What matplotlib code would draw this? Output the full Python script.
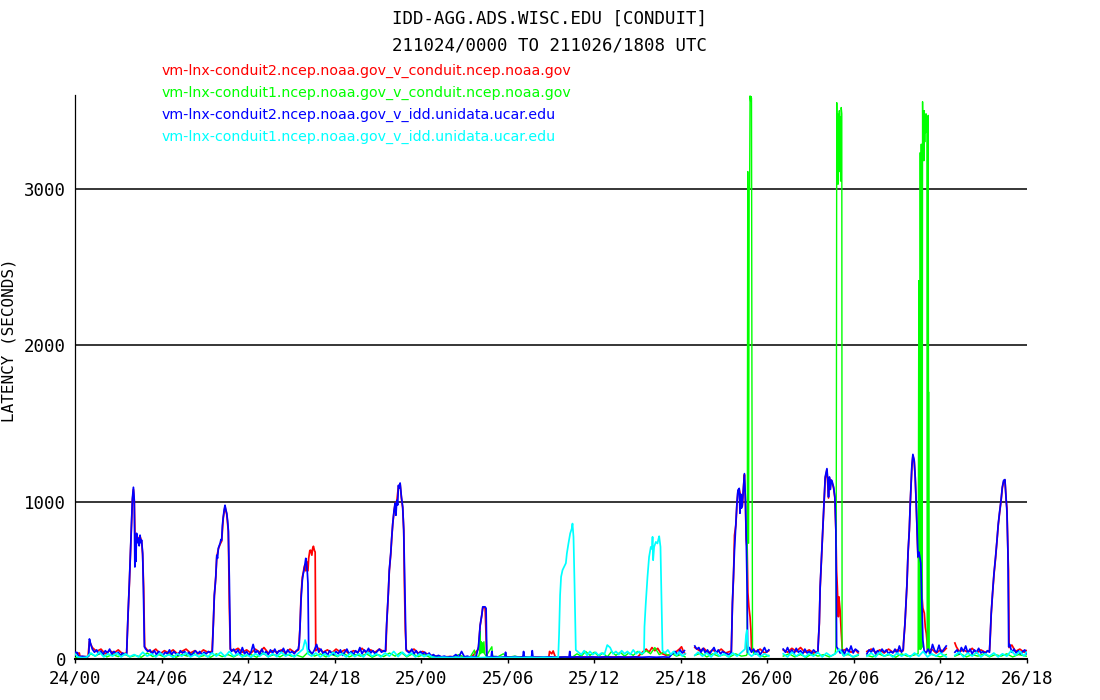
import numpy as np
from matplotlib import pyplot as plt

title1 = "IDD-AGG.ADS.WISC.EDU [CONDUIT]"
title2 = "211024/0000 TO 211026/1808 UTC"
feeds = ["vm-lnx-conduit2.ncep.noaa.gov_v_conduit.ncep.noaa.gov",
         "vm-lnx-conduit1.ncep.noaa.gov_v_conduit.ncep.noaa.gov",
         "vm-lnx-conduit2.ncep.noaa.gov_v_idd.unidata.ucar.edu",
         "vm-lnx-conduit1.ncep.noaa.gov_v_idd.unidata.ucar.edu"]
colors = ["#ff0000", "#00ff00", "#0000ff", "#00ffff"]
widths = [1.25, 1.0, 1.25, 1.25]
tick_hours = [0, 6, 12, 18, 24, 30, 36, 42, 48, 54, 60, 66]
tick_labels = ["24/00", "24/06", "24/12", "24/18", "25/00", "25/06",
               "25/12", "25/18", "26/00", "26/06", "26/12", "26/18"]
y_ticks = [0, 1000, 2000, 3000]

# (hours since 24/00 UTC, latency in seconds); GAP = no data
GAP = (None, None)

red_pts = [
    (0.0, 30), (0.3, 35), (0.35, 12), (0.9, 12), (1.0, 110), (1.2, 70), (1.5, 45), (1.8, 60), (2.1, 30),
    (2.4, 50), (2.7, 35), (3.0, 55), (3.3, 30), (3.58, 35),
    (3.68, 280), (3.77, 480), (3.86, 700), (3.93, 870), (3.98, 1010), (4.05, 1080), (4.11, 1000), (4.18, 700),
    (4.27, 790), (4.39, 760), (4.51, 780), (4.62, 750), (4.69, 660), (4.76, 450), (4.83, 75),
    (5.0, 55), (5.3, 40), (5.6, 60), (5.9, 30), (6.2, 50), (6.5, 35), (6.8, 55), (7.1, 30), (7.4, 45), (7.7, 60),
    (8.0, 35), (8.3, 50), (8.6, 30), (8.9, 55), (9.2, 40), (9.5, 45),
    (9.59, 220), (9.66, 400), (9.76, 520), (9.83, 650), (9.94, 700), (10.06, 730), (10.17, 750), (10.28, 900),
    (10.4, 970), (10.52, 920), (10.63, 810), (10.7, 330), (10.77, 60),
    (11.0, 50), (11.3, 65), (11.6, 40), (11.9, 55), (12.2, 35), (12.5, 60), (12.8, 40), (13.1, 70), (13.4, 35),
    (13.7, 50), (14.0, 40), (14.3, 55), (14.6, 35), (14.9, 60), (15.2, 40), (15.5, 55),
    (15.6, 200), (15.67, 400), (15.76, 520), (15.82, 545), (15.88, 580), (15.94, 600), (16.0, 560), (16.06, 620),
    (16.15, 560), (16.2, 640), (16.28, 690), (16.34, 692), (16.42, 660), (16.48, 705), (16.53, 717), (16.6, 690),
    (16.65, 680), (16.69, 50),
    (16.9, 65), (17.2, 40), (17.5, 55), (17.8, 35), (18.1, 60), (18.4, 40), (18.7, 55), (19.0, 30), (19.3, 50),
    (19.6, 40), (19.9, 65), (20.2, 35), (20.5, 55), (20.8, 40), (21.1, 60), (21.4, 45), (21.55, 50),
    (21.61, 220), (21.72, 410), (21.79, 560), (21.89, 665), (21.96, 770), (22.03, 860), (22.12, 940),
    (22.19, 985), (22.31, 1005), (22.42, 1100), (22.54, 1115), (22.63, 1025), (22.72, 960), (22.79, 820),
    (22.84, 458), (22.9, 182), (22.97, 50),
    (23.2, 45), (23.5, 60), (23.8, 35), (24.1, 45), (24.4, 30), (24.7, 20), (25.0, 15), (25.5, 10), (26.0, 12),
    (26.5, 10), (27.0, 8), (27.5, 10), (27.97, 60),
    (28.09, 210), (28.2, 275), (28.27, 325), (28.43, 325), (28.55, 8),
    (29.0, 10), (30.0, 8), (31.0, 10), (32.0, 8), (32.85, 10), (32.9, 45), (33.05, 30), (33.15, 48), (33.3, 10),
    (34.0, 8), (35.0, 10), (36.0, 8), (37.0, 10), (38.0, 8), (39.0, 10), (39.4, 45), (39.6, 60), (39.8, 40),
    (40.0, 70), (40.2, 50), (40.4, 65), (40.6, 35), (41.0, 20), (41.5, 30), (41.9, 60), (42.05, 75), (42.2, 40),
    (42.3, 30),
    GAP,
    (42.97, 70), (43.3, 50), (43.6, 65), (43.9, 35), (44.2, 55), (44.5, 40), (44.8, 60), (45.1, 35), (45.4, 45),
    (45.5, 40),
    (45.58, 350), (45.65, 510), (45.72, 787), (45.82, 855), (45.89, 985), (45.96, 1070), (46.05, 1080),
    (46.15, 1040), (46.26, 970), (46.35, 1100), (46.41, 1175), (46.48, 1005), (46.53, 760), (46.6, 700),
    (46.65, 420), (46.72, 330), (46.8, 265), (46.86, 180), (46.9, 60),
    (47.2, 45), (47.5, 60), (47.8, 35), (48.1, 50),
    GAP,
    (49.1, 55), (49.4, 40), (49.7, 65), (50.0, 45), (50.3, 70), (50.6, 40), (50.9, 55), (51.2, 35), (51.5, 45),
    (51.55, 130), (51.6, 220), (51.66, 450), (51.78, 685), (51.85, 835), (51.94, 1015), (52.01, 1150),
    (52.13, 1205), (52.24, 1025), (52.3, 1150), (52.44, 1135), (52.59, 1090), (52.68, 1025), (52.75, 820),
    (52.8, 560), (52.85, 458), (52.92, 267), (52.96, 394), (53.05, 300), (53.12, 171), (53.2, 50),
    (53.5, 60), (53.8, 40), (54.1, 55), (54.3, 35),
    GAP,
    (54.9, 45), (55.2, 60), (55.5, 40), (55.8, 55), (56.1, 35), (56.4, 60), (56.7, 40), (57.0, 55), (57.3, 45),
    (57.42, 50),
    (57.44, 95), (57.54, 220), (57.61, 350), (57.68, 475), (57.75, 665), (57.84, 815), (57.91, 995),
    (57.96, 1100), (58.02, 1225), (58.09, 1295), (58.18, 1260), (58.25, 1155), (58.32, 985), (58.37, 835),
    (58.44, 645), (58.55, 655), (58.64, 600), (58.7, 420), (58.78, 322), (58.88, 290), (58.95, 200),
    (59.02, 160), (59.06, 118), (59.1, 50),
    (59.4, 60), (59.7, 35), (60.0, 55), (60.2, 45), (60.4, 65),
    GAP,
    (61.0, 99), (61.1, 75), (61.2, 60), (61.3, 43), (61.6, 55), (61.9, 40), (62.2, 65), (62.5, 35), (62.8, 55),
    (63.1, 40), (63.4, 50),
    (63.45, 130), (63.52, 285), (63.61, 410), (63.71, 535), (63.82, 640), (63.92, 750), (64.01, 855),
    (64.1, 930), (64.2, 1005), (64.29, 1090), (64.38, 1130), (64.47, 1140), (64.56, 1005), (64.61, 960),
    (64.68, 671), (64.72, 560), (64.76, 70),
    (64.95, 86), (65.2, 45), (65.5, 60), (65.8, 40), (65.95, 50),
]

green_pts = [
    (0.0, 5), (0.4, 8), (0.8, 5), (1.1, 30), (1.4, 15), (1.8, 35), (2.2, 10), (2.6, 25), (3.0, 12), (3.4, 30),
    (3.8, 10), (4.2, 20), (4.6, 8), (5.0, 35), (5.4, 12), (5.8, 25), (6.2, 10), (6.6, 30), (7.0, 8), (7.4, 25),
    (7.8, 15), (8.2, 35), (8.6, 10), (9.0, 20), (9.4, 8), (9.8, 30), (10.2, 12), (10.6, 25), (11.0, 10),
    (11.4, 30), (11.8, 15), (12.2, 25), (12.6, 8), (13.0, 35), (13.4, 12), (13.8, 25), (14.2, 10), (14.6, 30),
    (15.0, 15), (15.4, 20), (15.8, 8), (16.2, 45), (16.6, 15), (17.0, 30), (17.4, 10), (17.8, 25), (18.2, 12),
    (18.6, 35), (19.0, 10), (19.4, 25), (19.8, 15), (20.2, 30), (20.6, 8), (21.0, 25), (21.4, 12), (21.8, 35),
    (22.2, 15), (22.6, 40), (23.0, 10), (23.4, 30), (23.8, 12), (24.2, 25), (24.6, 8), (25.0, 15), (25.4, 5),
    (25.8, 10), (26.2, 5), (26.6, 25), (27.0, 8), (27.4, 10), (27.69, 54), (27.75, 10),
    (28.0, 15), (28.05, 40), (28.09, 171), (28.12, 30), (28.16, 107), (28.2, 40), (28.25, 100), (28.3, 35),
    (28.35, 107), (28.4, 30), (28.5, 15), (28.9, 75), (28.95, 15),
    (29.3, 10), (29.7, 30), (30.0, 8), (30.5, 15), (31.0, 5), (31.5, 10), (32.0, 5), (32.5, 8), (33.0, 5),
    (33.5, 10), (34.0, 5), (34.5, 10), (34.8, 30), (35.1, 15), (35.4, 45), (35.7, 20), (36.0, 40), (36.3, 15),
    (36.6, 35), (36.9, 10), (37.2, 45), (37.5, 20), (37.8, 40), (38.1, 15), (38.4, 35), (38.7, 20), (39.0, 45),
    (39.3, 25), (39.6, 50), (39.9, 30), (40.2, 70), (40.5, 25), (40.8, 40), (41.1, 20), (41.4, 30), (41.7, 15),
    (42.0, 25), (42.3, 10),
    GAP,
    (42.97, 20), (43.4, 35), (43.8, 10), (44.2, 30), (44.6, 15), (45.0, 25), (45.4, 10), (45.8, 30), (46.2, 15),
    (46.55, 20), (46.6, 30), (46.64, 3111), (46.67, 1860), (46.7, 736), (46.74, 3010), (46.77, 3000),
    (46.8, 3594), (46.84, 3560), (46.87, 3590), (46.9, 3579), (46.93, 1780), (46.97, 75), (47.05, 30),
    (47.4, 25), (47.8, 10), (48.1, 20),
    GAP,
    (49.1, 15), (49.5, 30), (49.9, 10), (50.3, 25), (50.7, 8), (51.1, 30), (51.5, 15), (51.9, 25), (52.3, 10),
    (52.7, 30), (52.76, 80), (52.79, 1790), (52.81, 3551), (52.84, 3060), (52.87, 3480), (52.9, 3030),
    (52.93, 3400), (52.96, 3110), (52.99, 3500), (53.02, 3200), (53.05, 3460), (53.08, 3050), (53.12, 3520),
    (53.16, 3480), (53.18, 75), (53.25, 20),
    (53.6, 25), (54.0, 10), (54.3, 20),
    GAP,
    (54.9, 20), (55.3, 10), (55.7, 30), (56.1, 15), (56.5, 25), (56.9, 8), (57.3, 30), (57.7, 15), (58.1, 20),
    (58.45, 30), (58.5, 2414), (58.53, 60), (58.58, 60), (58.6, 3232), (58.63, 60), (58.65, 60), (58.67, 3286),
    (58.7, 70), (58.73, 80), (58.76, 3557), (58.79, 3200), (58.82, 3480), (58.85, 3180), (58.88, 3500),
    (58.91, 3300), (58.94, 3460), (58.97, 3360), (59.0, 3480), (59.03, 3400), (59.06, 3450), (59.08, 60),
    (59.13, 60), (59.15, 3470), (59.17, 1700), (59.2, 1700), (59.22, 30),
    (59.6, 20), (60.0, 10), (60.4, 25),
    GAP,
    (61.0, 15), (61.4, 30), (61.8, 10), (62.2, 25), (62.6, 15), (63.0, 30), (63.4, 10), (63.8, 25), (64.2, 15),
    (64.6, 30), (65.0, 10), (65.4, 25), (65.95, 15),
]

blue_pts = [
    (0.0, 40), (0.15, 38), (0.25, 12), (0.5, 14), (0.8, 10), (0.95, 15), (1.0, 125), (1.08, 95), (1.2, 60),
    (1.35, 40), (1.5, 55), (1.65, 30), (1.8, 48), (1.95, 25), (2.1, 50), (2.25, 35), (2.4, 60), (2.55, 28),
    (2.7, 45), (2.85, 30), (3.0, 40), (3.15, 20), (3.3, 35), (3.45, 25), (3.58, 30),
    (3.68, 290), (3.77, 490), (3.86, 713), (3.93, 883), (3.98, 1023), (4.05, 1094), (4.11, 1010), (4.15, 585),
    (4.18, 711), (4.22, 620), (4.27, 800), (4.33, 740), (4.39, 768), (4.45, 720), (4.51, 788), (4.56, 740),
    (4.62, 756), (4.69, 672), (4.74, 458), (4.81, 75),
    (4.9, 60), (5.05, 45), (5.2, 55), (5.35, 30), (5.5, 50), (5.65, 25), (5.8, 45), (5.95, 35), (6.1, 20),
    (6.25, 40), (6.4, 30), (6.55, 55), (6.7, 25), (6.85, 45), (7.0, 30), (7.15, 20), (7.3, 50), (7.45, 35),
    (7.6, 45), (7.75, 25), (7.9, 40), (8.05, 20), (8.2, 35), (8.35, 50), (8.5, 30), (8.65, 45), (8.8, 25),
    (8.95, 40), (9.1, 30), (9.25, 45), (9.4, 35), (9.52, 40),
    (9.59, 226), (9.66, 405), (9.72, 470), (9.76, 522), (9.83, 660), (9.88, 640), (9.94, 705), (10.0, 720),
    (10.06, 736), (10.12, 760), (10.17, 756), (10.22, 850), (10.28, 904), (10.34, 950), (10.4, 979),
    (10.46, 950), (10.52, 928), (10.58, 880), (10.63, 820), (10.7, 500), (10.77, 60),
    (10.85, 45), (11.0, 60), (11.15, 35), (11.3, 55), (11.45, 25), (11.6, 70), (11.75, 30), (11.9, 45),
    (12.05, 20), (12.2, 40), (12.35, 90), (12.5, 35), (12.65, 50), (12.8, 25), (12.95, 60), (13.1, 30),
    (13.25, 45), (13.4, 25), (13.55, 55), (13.7, 35), (13.85, 60), (14.0, 30), (14.15, 50), (14.3, 40),
    (14.45, 65), (14.6, 30), (14.75, 55), (14.9, 35), (15.05, 45), (15.2, 30), (15.35, 50), (15.48, 60),
    (15.55, 100), (15.6, 203), (15.67, 373), (15.72, 450), (15.76, 500), (15.82, 540), (15.88, 565),
    (15.94, 600), (16.0, 640), (16.06, 600), (16.11, 545), (16.15, 481), (16.2, 60),
    (16.3, 45), (16.45, 30), (16.6, 55), (16.75, 90), (16.9, 40), (17.05, 60), (17.2, 30), (17.35, 45),
    (17.5, 20), (17.65, 50), (17.8, 35), (17.95, 25), (18.1, 45), (18.25, 30), (18.4, 55), (18.55, 20),
    (18.7, 40), (18.85, 60), (19.0, 30), (19.15, 45), (19.3, 25), (19.45, 50), (19.6, 35), (19.75, 70),
    (19.9, 30), (20.05, 55), (20.2, 40), (20.35, 65), (20.5, 35), (20.65, 50), (20.8, 30), (20.95, 45),
    (21.1, 60), (21.25, 40), (21.4, 50), (21.52, 45),
    (21.61, 226), (21.72, 417), (21.79, 565), (21.89, 673), (21.96, 777), (22.03, 864), (22.12, 947),
    (22.19, 992), (22.25, 915), (22.31, 1011), (22.37, 980), (22.42, 1106), (22.48, 1090), (22.54, 1121),
    (22.6, 1060), (22.63, 1032), (22.72, 968), (22.79, 820), (22.88, 405), (22.95, 60),
    (23.05, 45), (23.2, 35), (23.35, 60), (23.5, 30), (23.65, 50), (23.8, 25), (23.95, 45), (24.1, 30),
    (24.25, 40), (24.4, 20), (24.55, 35), (24.7, 15), (24.85, 25), (25.0, 12), (25.2, 20), (25.4, 10),
    (25.6, 15), (25.8, 8), (26.0, 12), (26.2, 10), (26.4, 25), (26.6, 8), (26.8, 45), (27.0, 10), (27.2, 15),
    (27.4, 8), (27.6, 12), (27.8, 10), (27.97, 75),
    (28.09, 214), (28.2, 277), (28.27, 330), (28.43, 330), (28.5, 320), (28.55, 8),
    (28.7, 10), (28.85, 10), (28.9, 45), (28.95, 10), (29.2, 12), (29.5, 8), (29.8, 10), (29.85, 40),
    (29.9, 10), (30.2, 8), (30.5, 12), (30.8, 8), (31.05, 10), (31.1, 45), (31.15, 10), (31.4, 8), (31.65, 10),
    (31.7, 50), (31.75, 10), (32.0, 8), (32.5, 10), (33.0, 10), (33.5, 8), (34.0, 10), (34.25, 8), (34.3, 45),
    (34.35, 8), (34.8, 10), (35.3, 8), (35.8, 10), (36.3, 8), (36.8, 10), (37.3, 8), (37.8, 10), (38.3, 8),
    (38.8, 10), (39.3, 8), (39.8, 10), (40.3, 8), (40.8, 10), (41.2, 8), (41.4, 30), (41.6, 45), (41.8, 25),
    (41.95, 55), (42.1, 35), (42.25, 50),
    GAP,
    (42.97, 80), (43.1, 60), (43.25, 70), (43.4, 40), (43.55, 65), (43.7, 35), (43.85, 55), (44.0, 30),
    (44.15, 50), (44.3, 70), (44.45, 35), (44.6, 55), (44.75, 30), (44.9, 45), (45.05, 35), (45.2, 30),
    (45.35, 25), (45.5, 40),
    (45.58, 362), (45.65, 522), (45.72, 692), (45.82, 864), (45.89, 992), (45.96, 1075), (46.05, 1087),
    (46.1, 928), (46.15, 1050), (46.2, 960), (46.26, 979), (46.35, 1106), (46.41, 1181), (46.48, 1011),
    (46.55, 692), (46.6, 417), (46.63, 40),
    (46.75, 70), (46.9, 40), (47.05, 60), (47.2, 30), (47.35, 55), (47.5, 25), (47.65, 45), (47.8, 70),
    (47.95, 40), (48.1, 55),
    GAP,
    (49.1, 60), (49.25, 40), (49.4, 70), (49.55, 35), (49.7, 55), (49.85, 30), (50.0, 65), (50.15, 40),
    (50.3, 50), (50.45, 30), (50.6, 60), (50.75, 35), (50.9, 45), (51.05, 30), (51.2, 55), (51.35, 40),
    (51.5, 35),
    (51.55, 139), (51.6, 226), (51.66, 458), (51.78, 692), (51.85, 841), (51.94, 1022), (52.01, 1160),
    (52.13, 1213), (52.18, 1150), (52.24, 1032), (52.3, 1160), (52.37, 1080), (52.44, 1140), (52.5, 1128),
    (52.59, 1096), (52.68, 1032), (52.75, 820), (52.8, 75),
    (52.9, 60), (53.05, 35), (53.2, 55), (53.35, 30), (53.5, 65), (53.65, 40), (53.8, 80), (53.95, 35),
    (54.1, 60), (54.3, 45),
    GAP,
    (54.9, 30), (55.05, 55), (55.2, 40), (55.35, 65), (55.5, 30), (55.65, 50), (55.8, 35), (55.95, 60),
    (56.1, 40), (56.25, 55), (56.4, 30), (56.55, 45), (56.7, 35), (56.85, 60), (57.0, 30), (57.15, 80),
    (57.3, 40), (57.42, 60),
    (57.44, 97), (57.54, 226), (57.61, 354), (57.68, 481), (57.75, 673), (57.84, 820), (57.91, 1000),
    (57.96, 1106), (58.02, 1234), (58.09, 1304), (58.18, 1266), (58.25, 1160), (58.32, 992), (58.37, 841),
    (58.44, 649), (58.5, 680), (58.55, 660), (58.6, 630), (58.64, 609), (58.71, 373), (58.78, 118),
    (58.87, 50),
    (59.0, 35), (59.15, 60), (59.3, 30), (59.45, 90), (59.6, 50), (59.75, 40), (59.9, 85), (60.05, 35),
    (60.2, 55), (60.4, 80),
    GAP,
    (61.0, 40), (61.15, 55), (61.3, 30), (61.45, 70), (61.6, 45), (61.75, 80), (61.9, 35), (62.05, 60),
    (62.2, 30), (62.35, 55), (62.5, 40), (62.65, 65), (62.8, 35), (62.95, 45), (63.1, 30), (63.25, 50),
    (63.4, 40),
    (63.45, 139), (63.52, 290), (63.61, 416), (63.71, 543), (63.82, 649), (63.92, 756), (64.01, 862),
    (64.1, 936), (64.2, 1011), (64.29, 1096), (64.38, 1138), (64.47, 1143), (64.56, 1011), (64.61, 936),
    (64.68, 671), (64.73, 75),
    (64.8, 90), (64.95, 40), (65.1, 60), (65.25, 35), (65.4, 50), (65.55, 30), (65.7, 45), (65.85, 55),
    (65.95, 30),
]

cyan_pts = [
    (0.0, 30), (0.2, 10), (0.5, 5), (0.8, 8), (1.1, 35), (1.4, 15), (1.7, 40), (2.0, 10), (2.3, 30), (2.6, 15),
    (2.9, 35), (3.2, 10), (3.5, 30), (3.8, 12), (4.1, 25), (4.4, 10), (4.7, 40), (5.0, 15), (5.3, 30),
    (5.6, 10), (5.9, 35), (6.2, 12), (6.5, 25), (6.8, 8), (7.1, 30), (7.4, 15), (7.7, 35), (8.0, 10),
    (8.3, 25), (8.6, 12), (8.9, 30), (9.2, 10), (9.5, 35), (9.8, 15), (10.1, 40), (10.4, 12), (10.7, 45),
    (11.0, 15), (11.3, 30), (11.6, 10), (11.9, 25), (12.2, 8), (12.5, 30), (12.8, 15), (13.1, 35), (13.4, 10),
    (13.7, 30), (14.0, 12), (14.3, 40), (14.6, 15), (14.9, 30), (15.2, 10), (15.5, 35), (15.8, 60),
    (15.95, 118), (16.05, 90), (16.15, 30), (16.4, 15), (16.7, 35), (17.0, 10), (17.3, 30), (17.6, 12),
    (17.9, 40), (18.2, 15), (18.5, 30), (18.8, 10), (19.1, 35), (19.4, 12), (19.7, 30), (20.0, 10), (20.3, 40),
    (20.6, 15), (20.9, 30), (21.2, 10), (21.5, 35), (21.8, 15), (22.1, 45), (22.4, 12), (22.7, 40), (23.0, 15),
    (23.3, 35), (23.6, 10), (23.9, 30), (24.2, 12), (24.5, 25), (24.8, 8), (25.1, 5), (25.5, 8), (26.0, 5),
    (26.5, 8), (27.0, 5), (27.5, 8), (28.0, 5), (28.5, 8), (29.0, 5), (29.5, 8), (30.0, 5), (30.5, 8),
    (31.0, 5), (31.5, 8), (32.0, 5), (32.5, 8), (33.0, 5), (33.5, 8),
    (33.56, 156), (33.63, 405), (33.7, 522), (33.8, 565), (33.91, 586), (34.03, 609), (34.1, 671),
    (34.21, 735), (34.33, 799), (34.44, 830), (34.49, 862), (34.56, 777), (34.63, 480), (34.72, 54),
    (34.9, 40), (35.1, 25), (35.3, 50), (35.5, 20), (35.7, 45), (35.9, 25), (36.1, 40), (36.3, 20), (36.5, 35),
    (36.7, 25), (36.9, 86), (37.1, 70), (37.3, 30), (37.5, 45), (37.7, 25), (37.9, 50), (38.1, 30), (38.3, 45),
    (38.5, 25), (38.7, 55), (38.9, 30), (39.1, 45), (39.3, 30), (39.45, 40),
    (39.48, 203), (39.57, 352), (39.69, 522), (39.8, 649), (39.92, 713), (40.0, 700), (40.04, 777),
    (40.08, 628), (40.15, 713), (40.27, 745), (40.38, 735), (40.44, 760), (40.5, 781), (40.59, 713),
    (40.66, 373), (40.73, 50),
    (40.9, 35), (41.1, 55), (41.3, 25), (41.5, 45), (41.7, 20), (41.9, 40), (42.1, 15), (42.3, 30),
    GAP,
    (42.97, 20), (43.2, 40), (43.5, 15), (43.8, 35), (44.1, 10), (44.4, 40), (44.7, 15), (45.0, 30),
    (45.3, 10), (45.6, 35), (45.9, 15), (46.2, 40), (46.45, 60), (46.52, 150), (46.58, 182), (46.63, 110),
    (46.7, 30), (46.9, 15), (47.2, 35), (47.5, 10), (47.8, 30), (48.1, 15),
    GAP,
    (49.1, 30), (49.4, 10), (49.7, 40), (50.0, 15), (50.3, 35), (50.6, 10), (50.9, 30), (51.2, 15), (51.5, 40),
    (51.8, 10), (52.1, 35), (52.4, 15), (52.7, 30), (53.0, 60), (53.3, 15), (53.6, 35), (53.9, 10), (54.3, 25),
    GAP,
    (54.9, 15), (55.2, 35), (55.5, 10), (55.8, 40), (56.1, 15), (56.4, 30), (56.7, 10), (57.0, 35), (57.3, 15),
    (57.6, 30), (57.9, 10), (58.2, 35), (58.5, 15), (58.8, 45), (59.1, 10), (59.4, 30), (59.7, 15), (60.0, 35),
    (60.4, 10),
    GAP,
    (61.0, 20), (61.3, 40), (61.6, 10), (61.9, 35), (62.2, 15), (62.5, 40), (62.8, 10), (63.1, 30), (63.4, 15),
    (63.7, 35), (64.0, 10), (64.3, 30), (64.6, 15), (64.9, 50), (65.2, 20), (65.5, 45), (65.8, 15), (65.95, 40),
]

series = [red_pts, green_pts, blue_pts, cyan_pts]

mono = "DejaVu Sans Mono"

fig = plt.figure(figsize=(11, 7), dpi=100)
ax = fig.add_axes([75 / 1100, 41.5 / 700, 952 / 1100, 563.5 / 700])

for y in y_ticks[1:]:
    ax.axhline(y, color="black", lw=1.1, zorder=1)

for i, pts in enumerate(series):
    arr = np.array(pts, dtype=float)
    ax.plot(arr[:, 0], arr[:, 1], color=colors[i], lw=widths[i], zorder=2 + i)

ax.set_xlim(0, 66)
ax.set_ylim(0, 3600)
ax.set_xticks(tick_hours, tick_labels)
ax.set_yticks(y_ticks, [str(v) for v in y_ticks])
ax.tick_params(axis="x", length=3, width=1, pad=5, labelsize=12.5)
ax.tick_params(axis="y", length=0, pad=6.5, labelsize=12.5)
for lab in ax.get_xticklabels() + ax.get_yticklabels():
    lab.set_family(mono)

for side in ["top", "right"]:
    ax.spines[side].set_visible(False)
ax.spines["left"].set_linewidth(0.9)
ax.spines["bottom"].set_linewidth(1.5)
ax.spines["bottom"].set_zorder(10)

fig.text(550 / 1100, 1 - 19 / 700, title1, ha="center", va="center", family=mono, fontsize=12.5)
fig.text(550 / 1100, 1 - 46 / 700, title2, ha="center", va="center", family=mono, fontsize=12.5)
fig.text(9 / 1100, 1 - 340 / 700, "LATENCY (SECONDS)", rotation=90, ha="center", va="center",
         family=mono, fontsize=11.5)

for i, name in enumerate(feeds):
    fig.text(162 / 1100, 1 - (71 + 22 * i) / 700, name, color=colors[i], ha="left", va="center",
             family="DejaVu Sans", fontsize=10.2)

plt.savefig("out.png", dpi=100)
